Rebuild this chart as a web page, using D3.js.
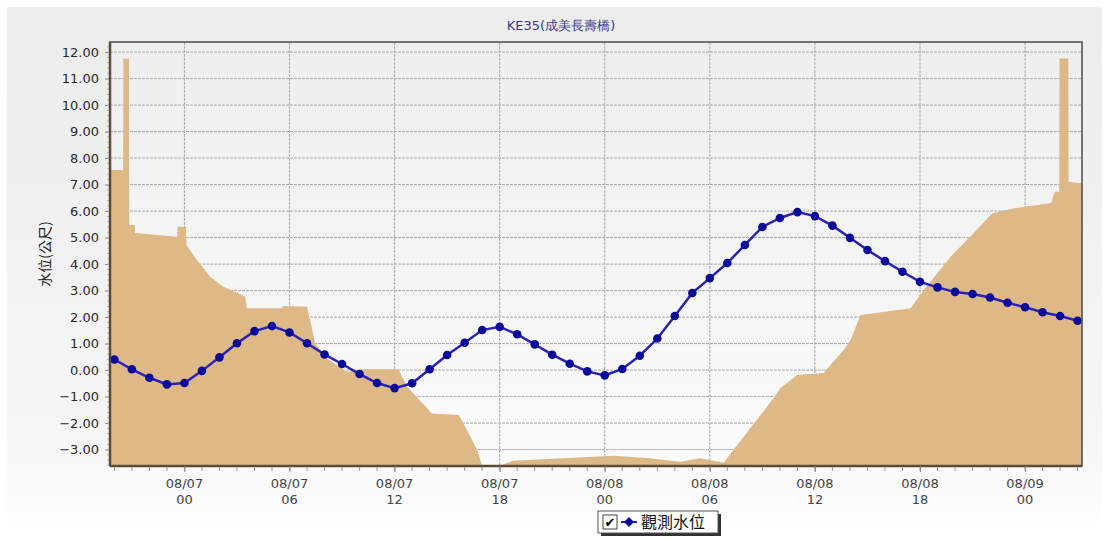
<!DOCTYPE html>
<html><head><meta charset="utf-8">
<script src="https://cdn.jsdelivr.net/npm/d3@7"></script>
<style>body{margin:0;background:#fff;}svg{display:block;font-family:"DejaVu Sans",Verdana,sans-serif;}</style>
</head><body><svg id="c" width="1108" height="539"></svg>
<script>
const title = "KE35(成美長壽橋)";
const yTitle = "水位(公尺)";
const seriesName = "觀測水位";
const lineTimes = [
"08/06 20:00","08/06 21:00","08/06 22:00","08/06 23:00",
"08/07 00:00","08/07 01:00","08/07 02:00","08/07 03:00","08/07 04:00","08/07 05:00","08/07 06:00","08/07 07:00","08/07 08:00","08/07 09:00","08/07 10:00","08/07 11:00",
"08/07 12:00","08/07 13:00","08/07 14:00","08/07 15:00","08/07 16:00","08/07 17:00","08/07 18:00","08/07 19:00","08/07 20:00","08/07 21:00","08/07 22:00","08/07 23:00",
"08/08 00:00","08/08 01:00","08/08 02:00","08/08 03:00","08/08 04:00","08/08 05:00","08/08 06:00","08/08 07:00","08/08 08:00","08/08 09:00","08/08 10:00","08/08 11:00",
"08/08 12:00","08/08 13:00","08/08 14:00","08/08 15:00","08/08 16:00","08/08 17:00","08/08 18:00","08/08 19:00","08/08 20:00","08/08 21:00","08/08 22:00","08/08 23:00",
"08/09 00:00","08/09 01:00","08/09 02:00","08/09 03:00"];
const lineValues = [
0.40,0.03,-0.29,-0.54,
-0.49,-0.03,0.48,1.01,1.47,1.66,1.42,1.01,0.59,0.23,-0.15,-0.49,
-0.68,-0.50,0.03,0.57,1.03,1.51,1.63,1.35,0.97,0.58,0.24,-0.05,
-0.20,0.04,0.54,1.19,2.04,2.91,3.47,4.04,4.72,5.40,5.74,5.96,
5.81,5.45,4.99,4.53,4.11,3.71,3.33,3.12,2.95,2.87,2.74,2.54,
2.37,2.18,2.04,1.86];
const areaTimes = ["08/06 19:45","08/06 20:30","08/06 20:31","08/06 20:50","08/06 20:51","08/06 21:10","08/06 21:11","08/06 23:35","08/06 23:37","08/07 00:05","08/07 00:07","08/07 00:43","08/07 01:28","08/07 02:13","08/07 02:54","08/07 03:28","08/07 03:34","08/07 05:34","08/07 05:38","08/07 07:00","08/07 07:28","08/07 08:08","08/07 09:17","08/07 10:13","08/07 12:13","08/07 12:43","08/07 14:08","08/07 15:40","08/07 16:08","08/07 16:43","08/07 17:00","08/07 18:00","08/07 18:45","08/07 21:36","08/08 00:30","08/08 02:26","08/08 04:18","08/08 05:25","08/08 06:34","08/08 06:47","08/08 09:38","08/08 10:02","08/08 10:59","08/08 12:29","08/08 13:38","08/08 14:02","08/08 14:36","08/08 17:28","08/08 18:13","08/08 19:45","08/08 21:04","08/08 22:08","08/08 23:24","08/09 01:30","08/09 01:41","08/09 01:57","08/09 01:58","08/09 02:28","08/09 02:29","08/09 03:15"];
const areaValues = [7.55,7.55,11.75,11.75,5.47,5.47,5.17,5.03,5.41,5.41,4.72,4.15,3.52,3.14,2.96,2.77,2.33,2.33,2.42,2.39,1.0,0.44,-0.06,0.03,0.03,-0.63,-1.64,-1.70,-2.26,-3.02,-3.62,-3.62,-3.42,-3.33,-3.23,-3.32,-3.46,-3.33,-3.46,-3.5,-1.06,-0.68,-0.19,-0.11,0.75,1.13,2.08,2.33,3.02,4.28,5.17,5.92,6.11,6.30,6.73,6.73,11.76,11.76,7.11,7.05];
const yTicks = [12,11,10,9,8,7,6,5,4,3,2,1,0,-1,-2,-3];
const xTickTimes = ["08/07 00:00","08/07 06:00","08/07 12:00","08/07 18:00","08/08 00:00","08/08 06:00","08/08 12:00","08/08 18:00","08/09 00:00"];
const xDomain = ["08/06 19:45","08/09 03:15"];
const yDomain = [-3.62, 12.38];

const parse = d3.timeParse("%m/%d %H:%M");
const svg = d3.select("#c");
const L=110, R=1082, T=42, B=466;
const x = d3.scaleTime().domain(xDomain.map(parse)).range([L,R]);
const y = d3.scaleLinear().domain(yDomain).range([B,T]);

const defs = svg.append("defs");
const g1 = defs.append("linearGradient").attr("id","bg").attr("x1",0).attr("y1",0).attr("x2",0).attr("y2",1);
g1.append("stop").attr("offset","0%").attr("stop-color","#ececec");
g1.append("stop").attr("offset","80%").attr("stop-color","#f6f6f6");
g1.append("stop").attr("offset","100%").attr("stop-color","#ffffff");
const g2 = defs.append("linearGradient").attr("id","pb").attr("x1",0).attr("y1",0).attr("x2",0).attr("y2",1);
g2.append("stop").attr("offset","0%").attr("stop-color","#eeeeee");
g2.append("stop").attr("offset","100%").attr("stop-color","#fbfbfb");
defs.append("clipPath").attr("id","clip").append("rect").attr("x",L).attr("y",T).attr("width",R-L).attr("height",B-T);

svg.append("rect").attr("x",7).attr("y",7).attr("width",1095).attr("height",532).attr("fill","url(#bg)");
svg.append("rect").attr("x",L).attr("y",T).attr("width",R-L).attr("height",B-T).attr("fill","url(#pb)");

// grid
const grid = svg.append("g");
grid.selectAll("line.h").data(yTicks).join("line").attr("class","h")
  .attr("x1",L).attr("x2",R).attr("y1",d=>y(d)).attr("y2",d=>y(d))
  .attr("stroke","#ababab").attr("stroke-width",1).attr("stroke-dasharray","3,1");
grid.selectAll("line.v").data(xTickTimes.map(parse)).join("line").attr("class","v")
  .attr("x1",d=>x(d)).attr("x2",d=>x(d)).attr("y1",T).attr("y2",B)
  .attr("stroke","#ababab").attr("stroke-width",1).attr("stroke-dasharray","3,1");

// area
const areaData = areaTimes.map((t,i)=>({t:parse(t), v:areaValues[i]}));
svg.append("path").datum(areaData).attr("clip-path","url(#clip)")
  .attr("fill","#deb887")
  .attr("d", d3.area().x(d=>x(d.t)).y0(y(yDomain[0])).y1(d=>y(d.v)));

// line
const lineData = lineTimes.map((t,i)=>({t:parse(t), v:lineValues[i]}));
svg.append("path").datum(lineData).attr("fill","none").attr("stroke","#2a22b8").attr("stroke-width",2.5)
  .attr("d", d3.line().x(d=>x(d.t)).y(d=>y(d.v)));
svg.selectAll("circle.pt").data(lineData).join("circle").attr("class","pt")
  .attr("cx",d=>x(d.t)).attr("cy",d=>y(d.v)).attr("r",4.3).attr("fill","#0a0a9a");

// frame
svg.append("rect").attr("x",L).attr("y",T).attr("width",R-L).attr("height",B-T)
  .attr("fill","none").attr("stroke","#4a4a4a").attr("stroke-width",1.5);
svg.append("line").attr("x1",L).attr("x2",L).attr("y1",T).attr("y2",B).attr("stroke","#5a4a3a").attr("stroke-width",2.5);
svg.append("line").attr("x1",L).attr("x2",R).attr("y1",B).attr("y2",B).attr("stroke","#5a4a3a").attr("stroke-width",2.5);

// y axis
const yAxis = d3.axisLeft(y).tickValues(yTicks).tickFormat(d3.format(".2f")).tickSize(4).tickPadding(6);
const ya = svg.append("g").attr("transform",`translate(${L-1},0)`).call(yAxis);
ya.select(".domain").remove();
ya.selectAll("line").attr("stroke","#888");
ya.selectAll("text").attr("font-size",13).attr("fill","#2a2a2a").attr("font-family","DejaVu Sans, sans-serif");
const yMinor = d3.range(-3.6,12.4,0.2);
svg.append("g").selectAll("line").data(yMinor).join("line")
  .attr("x1",L-3).attr("x2",L-1).attr("y1",d=>y(d)).attr("y2",d=>y(d)).attr("stroke","#aaa");

// x axis
const xMinor = d3.timeMinute.every(90).range(parse("08/06 19:30"), parse("08/09 03:30")).filter(d=>d>=x.domain()[0]&&d<=x.domain()[1]);
svg.append("g").selectAll("line").data(xMinor).join("line")
  .attr("x1",d=>x(d)).attr("x2",d=>x(d)).attr("y1",B+1).attr("y2",B+5).attr("stroke","#999");
const xAxis = d3.axisBottom(x).tickValues(xTickTimes.map(parse)).tickSize(6).tickFormat("");
const xa = svg.append("g").attr("transform",`translate(0,${B})`).call(xAxis);
xa.select(".domain").remove();
xa.selectAll("line").attr("stroke","#888");
const f1 = d3.timeFormat("%m/%d"), f2 = d3.timeFormat("%H");
const xl = svg.append("g");
xTickTimes.map(parse).forEach(d=>{
  xl.append("text").attr("x",x(d)).attr("y",488).attr("text-anchor","middle").attr("font-size",13).attr("fill","#444").text(f1(d));
  xl.append("text").attr("x",x(d)).attr("y",504).attr("text-anchor","middle").attr("font-size",13).attr("fill","#444").text(f2(d));
});

// titles
svg.append("text").attr("x",561).attr("y",30).attr("text-anchor","middle").attr("font-size",13)
  .attr("fill","#3a3a8a").text(title);
svg.append("text").attr("transform","translate(50,254) rotate(-90)").attr("text-anchor","middle")
  .attr("font-size",14).attr("fill","#222").attr("font-family","Noto Sans CJK TC, sans-serif").text(yTitle);

// legend
const lg = svg.append("g");
lg.append("rect").attr("x",601).attr("y",514).attr("width",120).attr("height",22).attr("fill","#333");
lg.append("rect").attr("x",598).attr("y",511).attr("width",120).attr("height",22).attr("fill","#fff").attr("stroke","#555");
lg.append("rect").attr("x",603).attr("y",515).attr("width",14).attr("height",14).attr("fill","#fff").attr("stroke","#444");
lg.append("text").attr("x",610).attr("y",527).attr("text-anchor","middle").attr("font-size",13).attr("fill","#000").text("✔");
lg.append("line").attr("x1",621).attr("x2",637).attr("y1",522).attr("y2",522).attr("stroke","#2a22b8").attr("stroke-width",2);
lg.append("path").attr("d","M629,517 L634,522 L629,527 L624,522 Z").attr("fill","#0a0a9a");
lg.append("text").attr("x",641).attr("y",528).attr("font-size",16).attr("fill","#111")
  .attr("font-family","Noto Sans CJK TC, sans-serif").text(seriesName);
</script></body></html>
